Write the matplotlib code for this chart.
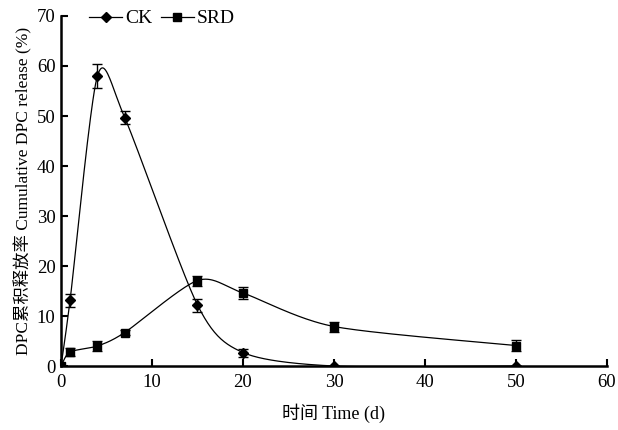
import numpy as np
import matplotlib
matplotlib.use("Agg")
import matplotlib.pyplot as plt
from matplotlib.lines import Line2D

plt.rcParams['font.family'] = ['Liberation Serif', 'Noto Sans CJK SC']

days = [0, 1, 4, 7, 15, 20, 30, 50]
ck = [0, 13.2, 58.0, 49.7, 12.2, 2.7, 0.0, 0.0]
ck_err = [0, 1.3, 2.3, 1.3, 1.3, 0.8, 0, 0]
srd = [0, 2.8, 4.0, 6.7, 17.1, 14.6, 7.9, 4.1]
srd_err = [0, 0.8, 1.0, 0.5, 1.0, 1.2, 1.0, 1.1]
xticks = [0, 10, 20, 30, 40, 50, 60]
yticks = [0, 10, 20, 30, 40, 50, 60, 70]


def smooth(xs, ys, n=40, k=7.5):
    xs = np.asarray(xs, float)
    ys = np.asarray(ys, float)
    P = np.column_stack([xs, ys])
    Pe = np.vstack([P[0], P, P[-1]])
    out = []
    t = np.linspace(0, 1, n)[:, None]
    for i in range(len(P) - 1):
        p0, p1, p2, p3 = Pe[i], Pe[i + 1], Pe[i + 2], Pe[i + 3]
        c1 = p1 + (p2 - p0) / k
        c2 = p2 - (p3 - p1) / k
        seg = ((1 - t) ** 3) * p1 + 3 * ((1 - t) ** 2) * t * c1 + 3 * (1 - t) * t ** 2 * c2 + t ** 3 * p2
        out.append(seg)
    s = np.vstack(out)
    return s[:, 0], s[:, 1]


fig = plt.figure(figsize=(6.18, 4.30), dpi=100)
ax = fig.add_axes([0.0987, 0.1488, 0.8835, 0.814])

for y, e, m, ms in [(ck, ck_err, 'D', 5.5), (srd, srd_err, 's', 5.5)]:
    sx, sy = smooth(days, y)
    ax.plot(sx, sy, color='black', lw=0.9, zorder=2)
    ax.errorbar(days, y, yerr=e, fmt='none', ecolor='black', elinewidth=1.0,
                capsize=3.5, capthick=1.0, zorder=3)
    ax.plot(days, y, linestyle='none', marker=m, color='black', ms=ms, zorder=4)

ax.set_xlim(0, 60)
ax.set_ylim(0, 70)
ax.set_xticks(xticks)
ax.set_yticks(yticks)
ax.tick_params(direction='in', length=5, width=1.5, labelsize=13.5)
ax.tick_params(axis='x', pad=6)
ax.tick_params(axis='y', pad=4)
for s in ['top', 'right']:
    ax.spines[s].set_visible(False)
for s in ['left', 'bottom']:
    ax.spines[s].set_linewidth(1.8)

ax.set_xlabel('时间 Time (d)', fontsize=13, labelpad=9)
ax.set_ylabel('DPC累积释放率 Cumulative DPC release (%)', fontsize=12.5, labelpad=3)

handles = [Line2D([0], [0], color='black', lw=0.9, marker='D', ms=5.5),
           Line2D([0], [0], color='black', lw=0.9, marker='s', ms=5.5)]
ax.legend(handles, ['CK', 'SRD'], loc='upper left', bbox_to_anchor=(0.037, 1.04),
          ncol=2, frameon=False, fontsize=14, handlelength=1.7, handletextpad=0.15,
          columnspacing=0.45, borderaxespad=0)

fig.savefig('out.png', dpi=100)
